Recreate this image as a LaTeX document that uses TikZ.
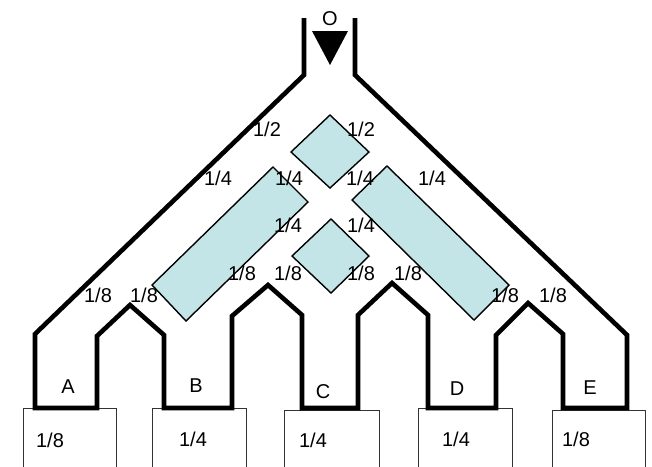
\documentclass[tikz,border=0pt]{standalone}
\usepackage{fontspec}
\setmainfont{Liberation Sans}
\definecolor{valve}{RGB}{196,229,231}
\begin{document}
\begin{tikzpicture}[x=1pt,y=-1pt,
  wall/.style={line width=4.6pt,line join=miter},
  valvebox/.style={draw=black,line width=1.4pt,fill=valve},
  outbox/.style={draw=black!80,line width=1pt},
  lbl/.style={inner sep=0pt,font=\fontsize{20}{24}\selectfont}]
\useasboundingbox (0,0) rectangle (652,466);
\begin{scope}
\clip (0,0) rectangle (652,466);
% output boxes
\draw[outbox] (23,470) -- (23,408) -- (116,408) -- (116,470);
\draw[outbox] (152,470) -- (152,408) -- (246,408) -- (246,470);
\draw[outbox] (284,470) -- (284,410) -- (379,410) -- (379,470);
\draw[outbox] (418,470) -- (418,408) -- (512,408) -- (512,470);
\draw[outbox] (552,470) -- (552,410) -- (645,410) -- (645,470);
\end{scope}
% walls
\draw[wall] (304,18) -- (304,75) -- (35,334) -- (35,408) -- (97,408) -- (97,336)
  -- (130,305) -- (164,335) -- (164,408) -- (232,408) -- (232,316)
  -- (268,285) -- (302,315) -- (302,408) -- (358,408) -- (358,315)
  -- (392,283) -- (428,315) -- (428,408) -- (496,408) -- (496,335)
  -- (528,303) -- (563,334) -- (563,408) -- (627,408) -- (627,335)
  -- (355,75) -- (355,18);
% inlet arrow
\fill[black] (312,31) -- (348,31) -- (330,65) -- cycle;
\node[lbl] (o) at (330,19) {O};
% valves
\draw[valvebox] (330,115) -- (369,152) -- (330,188) -- (291,152) -- cycle;
\draw[valvebox] (331,219) -- (369,256) -- (331,293) -- (292,256) -- cycle;
\draw[valvebox] (273,167) -- (308,202) -- (186,321) -- (152,285) -- cycle;
\draw[valvebox] (387,166) -- (352,200) -- (474,320) -- (509,285) -- cycle;
% fraction labels
\node[lbl] (h1) at (267,129) {1/2};
\node[lbl] (h2) at (361,129) {1/2};
\node[lbl] (q1) at (218,178) {1/4};
\node[lbl] (q2) at (289,178) {1/4};
\node[lbl] (q3) at (360,178) {1/4};
\node[lbl] (q4) at (432,178) {1/4};
\node[lbl] (q5) at (288,225) {1/4};
\node[lbl] (q6) at (361,225) {1/4};
\node[lbl] (e1) at (242,273) {1/8};
\node[lbl] (e2) at (288,273) {1/8};
\node[lbl] (e3) at (361,273) {1/8};
\node[lbl] (e4) at (408,273) {1/8};
\node[lbl] (e5) at (98,295) {1/8};
\node[lbl] (e6) at (144,295) {1/8};
\node[lbl] (e7) at (505,295) {1/8};
\node[lbl] (e8) at (553,295) {1/8};
% channel names
\node[lbl] (A) at (68,387) {A};
\node[lbl] (B) at (196,386) {B};
\node[lbl] (C) at (323,392) {C};
\node[lbl] (D) at (457,389) {D};
\node[lbl] (E) at (590,388) {E};
% box values
\node[lbl] (va) at (50,440) {1/8};
\node[lbl] (vb) at (193,439) {1/4};
\node[lbl] (vc) at (313,440) {1/4};
\node[lbl] (vd) at (456,439) {1/4};
\node[lbl] (ve) at (576,439) {1/8};
\end{tikzpicture}
\end{document}
